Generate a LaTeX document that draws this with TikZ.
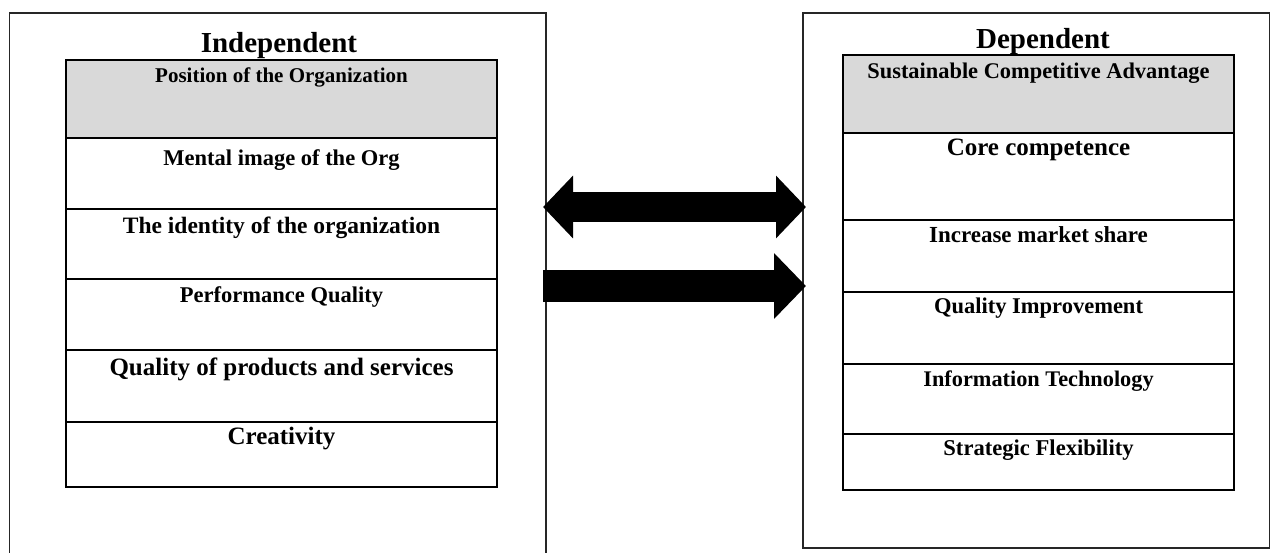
\documentclass[tikz,border=0pt]{standalone}
\usepackage{fontspec}
\setmainfont{Liberation Serif}
\usetikzlibrary{arrows.meta}
\definecolor{cellgray}{RGB}{217,217,217}
\tikzset{
  outerbox/.style={draw=black!85, line width=1.6pt, inner sep=0pt, outer sep=0pt, anchor=north west},
  cell/.style={draw, line width=1.6pt, inner sep=0pt, outer sep=0pt, anchor=north west},
  celltext/.style={anchor=base, inner sep=0pt},
  head/.style={anchor=base, inner sep=0pt, font=\bfseries\fontsize{29}{34}\selectfont},
  dblarrow/.style={line width=30pt, {Triangle[length=30pt,width=61pt]}-{Triangle[length=30pt,width=61pt]}},
  onearrow/.style={line width=32pt, -{Triangle[length=32pt,width=64pt]}},
}
\begin{document}
\begin{tikzpicture}[x=1pt,y=-1pt]
\useasboundingbox (0,0) rectangle (1272,552);
% outer frames
\node[outerbox, minimum width=536.5pt, minimum height=580pt] (indep) at (9.5,13) {};
\node[outerbox, minimum width=466.5pt, minimum height=535pt] (dep) at (803,13) {};
% left column
\node[head] (indhead) at (279,52) {Independent};
\foreach \i/\t/\b/\fc/\fs/\off/\txt in {
  1/60/138/cellgray/21/22/{Position of the Organization},
  2/138/209/white/22.5/27/{Mental image of the Org},
  3/209/279/white/23.5/24/{The identity of the organization},
  4/279/350/white/22.5/23/{Performance Quality},
  5/350/422/white/25/25/{Quality of products and services},
  6/422/487/white/25/22/{Creativity}}
{
  \node[cell, fill=\fc, minimum width=431pt, minimum height={(\b-\t)*1pt}] (L\i) at (66,\t) {};
  \node[celltext, font=\bfseries\fontsize{\fs}{\fs}\selectfont] (Lt\i) at ([yshift=-\off pt]L\i.north) {\txt};
}
% right column
\node[head] (dephead) at (1043,48) {Dependent};
\foreach \i/\t/\b/\fc/\fs/\off/\txt in {
  1/55/133/cellgray/22.4/23/{Sustainable Competitive Advantage},
  2/133/220/white/25/22/{Core competence},
  3/220/292/white/23/22/{Increase market share},
  4/292/364/white/22.5/21/{Quality Improvement},
  5/364/434/white/22.3/22/{Information Technology},
  6/434/490/white/22.6/21/{Strategic Flexibility}}
{
  \node[cell, fill=\fc, minimum width=391pt, minimum height={(\b-\t)*1pt}] (R\i) at (843,\t) {};
  \node[celltext, font=\bfseries\fontsize{\fs}{\fs}\selectfont] (Rt\i) at ([yshift=-\off pt]R\i.north) {\txt};
}
% arrows between the frames
\draw[dblarrow, shorten <=-3pt, shorten >=-3pt] (indep.east |- 0,207) -- (dep.west |- 0,207);
\draw[onearrow, shorten <=-3pt, shorten >=-3pt] (indep.east |- 0,286) -- (dep.west |- 0,286);
\end{tikzpicture}
\end{document}
